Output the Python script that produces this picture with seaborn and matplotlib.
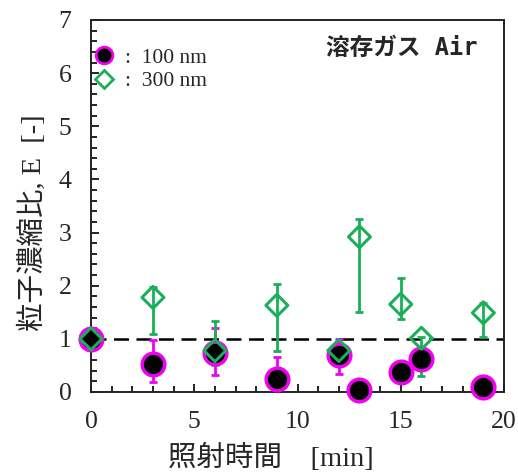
import numpy as np
import pandas as pd
import matplotlib
matplotlib.use("Agg")
import matplotlib.pyplot as plt
from matplotlib.lines import Line2D
import seaborn as sns

# ---- data ----
time_100 = [0, 3, 6, 9, 12, 13, 15, 16, 19]
e_100 = [1.00, 0.53, 0.74, 0.24, 0.70, 0.03, 0.37, 0.62, 0.10]
e_100_low = [1.00, 0.18, 0.32, 0.10, 0.34, 0.00, 0.30, 0.58, 0.08]
e_100_high = [1.00, 0.98, 1.20, 0.66, 0.99, 0.05, 0.57, 0.66, 0.12]

time_300 = [0, 3, 6, 9, 12, 13, 15, 16, 19]
e_300 = [1.00, 1.78, 0.78, 1.63, 0.78, 2.92, 1.65, 1.01, 1.49]
e_300_low = [1.00, 1.09, 0.50, 0.78, 0.74, 1.50, 1.37, 0.31, 1.04]
e_300_high = [1.00, 1.97, 1.33, 2.03, 0.83, 3.25, 2.15, 1.04, 1.68]

x_ticks = [0, 5, 10, 15, 20]
y_ticks = [0, 1, 2, 3, 4, 5, 6, 7]
labels = [":  100 nm", ":  300 nm"]

MAGENTA = "#F200F2"
GREEN = "#1BAF5A"

sns.set_style("ticks")
plt.rcParams["font.family"] = ["Liberation Serif", "Noto Sans CJK JP"]

fig = plt.figure(figsize=(5.18, 4.72), dpi=100)
ax = fig.add_axes([91 / 518, 1 - 392 / 472, (504 - 91) / 518, (392 - 20) / 472])

df100 = pd.DataFrame({"t": time_100, "E": e_100})
df300 = pd.DataFrame({"t": time_300, "E": e_300})

ax.axhline(1.0, color="black", lw=1.8, dashes=(6, 3), zorder=1)

err100 = [np.array(e_100) - np.array(e_100_low), np.array(e_100_high) - np.array(e_100)]
err300 = [np.array(e_300) - np.array(e_300_low), np.array(e_300_high) - np.array(e_300)]
ax.errorbar(time_100, e_100, yerr=err100, fmt="none", ecolor=MAGENTA,
            elinewidth=2.0, capsize=3.0, capthick=2.0, zorder=2)
ax.errorbar(time_300, e_300, yerr=err300, fmt="none", ecolor=GREEN,
            elinewidth=2.0, capsize=3.0, capthick=2.0, zorder=3)

sns.scatterplot(data=df100, x="t", y="E", ax=ax, marker="o", s=265,
                color="black", edgecolor=MAGENTA, linewidth=2.5, zorder=4,
                legend=False)
sns.scatterplot(data=df300, x="t", y="E", ax=ax, marker="D", s=125,
                facecolor="none", edgecolor=GREEN, linewidth=2.2, zorder=5,
                legend=False)
for c in ax.collections:
    c.set_clip_on(False)

ax.set_xlim(0, 20)
ax.set_ylim(0, 7)
ax.set_xticks(x_ticks)
ax.set_yticks(y_ticks)
ax.set_xticks(np.arange(0, 20.01, 1), minor=True)
ax.set_yticks(np.arange(0, 7.01, 0.2), minor=True)
ax.tick_params(axis="both", which="both", direction="in", labelsize=18.5,
               pad=14, color="black", width=1.2)
ax.tick_params(which="major", length=6)
ax.tick_params(which="minor", length=4)
ax.set_xlabel("")
ax.set_ylabel("")
for s in ax.spines.values():
    s.set_visible(True)
    s.set_linewidth(1.4)
    s.set_color("#222222")

handles = [
    Line2D([], [], marker="o", ms=12, mfc="black", mec=MAGENTA, mew=2, ls="none"),
    Line2D([], [], marker="D", ms=9, mfc="none", mec=GREEN, mew=2, ls="none"),
]
ax.legend(handles, labels, loc="upper left", bbox_to_anchor=(0.005, 0.925),
          frameon=False, fontsize=15.5, handlelength=1.0, handletextpad=0.5,
          labelspacing=0.15, borderpad=0, borderaxespad=0)

ax.text(0.935, 0.925, "溶存ガス Air", transform=ax.transAxes, ha="right",
        va="center", fontsize=17, fontweight="bold",
        family=["DejaVu Sans Mono", "Noto Sans CJK JP"])

fig.text(33 / 518, 1 - 223 / 472, "粒子濃縮比, E  [-]", rotation=90,
         ha="center", va="center", fontsize=20.5)
fig.text(271 / 518, 1 - 458 / 472, "照射時間　[min]", ha="center",
         va="center", fontsize=20.5)

fig.savefig("out.png", dpi=100)
